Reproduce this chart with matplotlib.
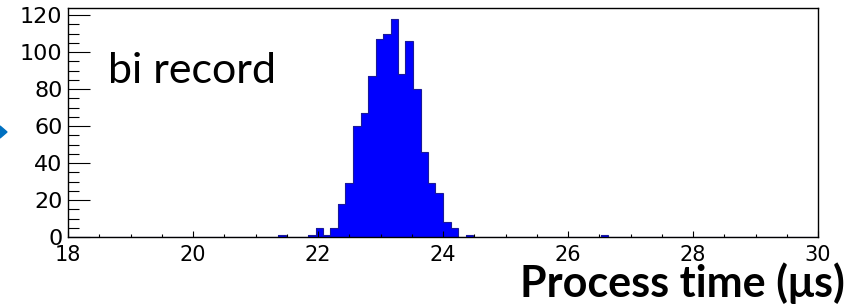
import numpy as np
import matplotlib
matplotlib.use("Agg")
import matplotlib.pyplot as plt
from matplotlib.ticker import MultipleLocator
from matplotlib.patches import Polygon

# ---- data ----
x_min, x_max, n_bins = 18.0, 30.0, 100
bin_index = [28, 32, 33, 34, 35, 36, 37, 38, 39, 40, 41, 42, 43, 44, 45, 46, 47, 48, 49, 50, 51, 53, 71]
bin_count = [1, 1, 5, 1, 5, 18, 29, 60, 67, 87, 107, 110, 118, 88, 106, 80, 46, 29, 24, 8, 5, 1, 1]
x_ticks = [18, 20, 22, 24, 26, 28, 30]
x_ticklabels = ["18", "20", "22", "24", "26", "28", "30"]
y_ticks = [0, 20, 40, 60, 80, 100, 120]
y_ticklabels = ["0", "20", "40", "60", "80", "100", "120"]
label_text = "bi record"
xlabel_text = "Process time (μs)"

edges = np.linspace(x_min, x_max, n_bins + 1)
counts = np.zeros(n_bins)
counts[bin_index] = bin_count

W, H = 846, 304
fig = plt.figure(figsize=(W / 100, H / 100), dpi=100)
fig.patch.set_facecolor("white")
ax = fig.add_axes([68 / W, (H - 237) / H, 750 / W, 229 / H])

ax.stairs(counts, edges, fill=True, color="#0000ff", linewidth=0)
ax.stairs(counts, edges, color="#1a1a99", linewidth=0.8)

ax.set_xlim(x_min, x_max)
ax.set_ylim(0, max(bin_count) * 1.05)

ax.set_xticks(x_ticks)
ax.set_xticklabels(x_ticklabels, fontfamily="DejaVu Sans", fontsize=15)
ax.set_yticks(y_ticks)
ax.set_yticklabels(y_ticklabels, fontfamily="DejaVu Sans", fontsize=16)
ax.xaxis.set_minor_locator(MultipleLocator(0.5))
ax.yaxis.set_minor_locator(MultipleLocator(5))

ax.tick_params(axis="x", which="major", direction="in", length=4.3, width=0.8, pad=6)
ax.tick_params(axis="x", which="minor", direction="in", length=2.2, width=0.8)
ax.tick_params(axis="y", which="major", direction="in", length=15.8, width=0.8, pad=4)
ax.tick_params(axis="y", which="minor", direction="in", length=7.9, width=0.8)
for s in ax.spines.values():
    s.set_linewidth(1.0)
    s.set_color("black")

fig.text(108 / W, 1 - 83 / H, label_text, fontfamily="Lato", fontsize=31,
         ha="left", va="baseline")
fig.text(845 / W, 1 - 297 / H, xlabel_text, fontfamily="Lato", fontweight="bold",
         fontsize=31, ha="right", va="baseline")

# partial blue arrow head at the left edge
arrow = Polygon([[0 / W, 1 - 126 / H], [7 / W, 1 - 132 / H], [0 / W, 1 - 138 / H]],
                closed=True, transform=fig.transFigure, color="#0070c0")
fig.patches.append(arrow)

fig.savefig("out.png", dpi=100)
